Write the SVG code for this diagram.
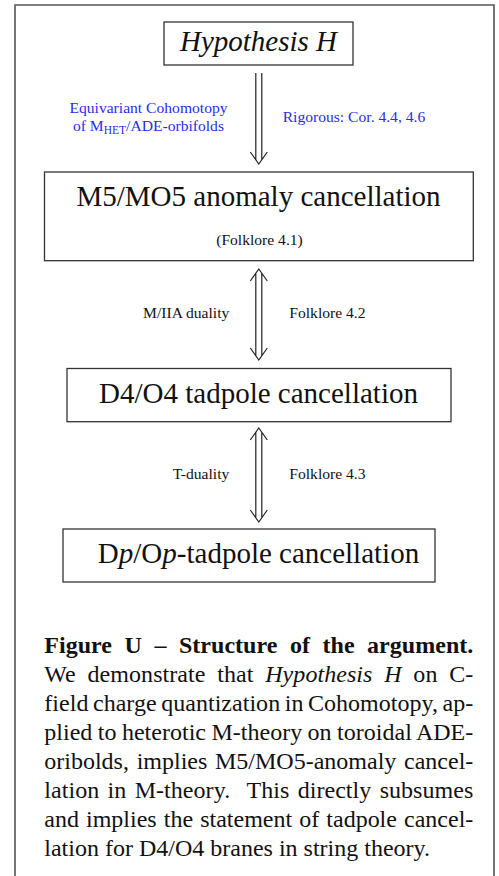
<svg xmlns="http://www.w3.org/2000/svg" width="499" height="876" viewBox="0 0 499 876">
<style>
  text { font-family: "Liberation Serif", "Times New Roman", serif; fill: #111; }
  .box { fill: #fff; stroke: #333; stroke-width: 1.3; }
  .big { font-size: 29px; text-anchor: middle; }
  .lbl { font-size: 15.6px; }
  .blue { fill: #2b2bf0; }
  .cap { font-size: 24px; }
  .ln { fill: none; stroke: #222; stroke-width: 1.2; }
</style>
<rect width="499" height="876" fill="#fff"/>
<path d="M15,880 V5 H494 V880" fill="none" stroke="#555" stroke-width="1.6"/>

<g id="hypothesis">
  <rect class="box" x="164" y="22" width="189" height="43"/>
  <text class="big" x="258.5" y="51" font-style="italic">Hypothesis H</text>
</g>

<g id="m5">
  <rect class="box" x="44.5" y="172" width="428.8" height="88.7"/>
  <text class="big" x="258.5" y="206">M5/MO5 anomaly cancellation</text>
  <text class="lbl" x="259.5" y="245" text-anchor="middle">(Folklore 4.1)</text>
</g>

<g id="d4">
  <rect class="box" x="67" y="368.5" width="384" height="53.2"/>
  <text class="big" x="258.5" y="403">D4/O4 tadpole cancellation</text>
</g>

<g id="dp">
  <rect class="box" x="63" y="529" width="372" height="53"/>
  <text class="big" x="258.5" y="563">D<tspan font-style="italic">p</tspan>/O<tspan font-style="italic">p</tspan>-tadpole cancellation</text>
</g>

<g id="connectors">
  <!-- arrow 1: implies -->
  <path class="ln" d="M255.8,73 V160 M261.8,73 V160 M250.3,152 L258.8,164 L267.3,152"/>
  <!-- arrow 2: equivalence -->
  <path class="ln" d="M255.8,273 V356 M261.8,273 V356 M250.3,281 L258.8,269 L267.3,281 M250.3,348 L258.8,360 L267.3,348"/>
  <!-- arrow 3: equivalence -->
  <path class="ln" d="M255.8,432 V518 M261.8,432 V518 M250.3,440 L258.8,428 L267.3,440 M250.3,510 L258.8,522 L267.3,510"/>
</g>

<g id="labels">
  <text class="lbl blue" x="148.5" y="113.3" text-anchor="middle">Equivariant Cohomotopy</text>
  <text class="lbl blue" x="148.5" y="130.7" text-anchor="middle">of M<tspan font-size="11.5px" dy="3">HET</tspan><tspan dy="-3">/ADE-orbifolds</tspan></text>
  <text class="lbl blue" x="282.7" y="121.7">Rigorous: Cor. 4.4, 4.6</text>
  <text class="lbl" x="229.3" y="318.3" text-anchor="end">M/IIA duality</text>
  <text class="lbl" x="289.3" y="318.3">Folklore 4.2</text>
  <text class="lbl" x="229.3" y="479.3" text-anchor="end">T-duality</text>
  <text class="lbl" x="289.3" y="479.3">Folklore 4.3</text>
</g>

<g id="caption">
  <text class="cap" x="44.3" y="653" font-weight="bold" word-spacing="6.5" textLength="429" lengthAdjust="spacing">Figure U – Structure of the argument.</text>
  <text class="cap" x="44.3" y="682" word-spacing="5.7" textLength="429" lengthAdjust="spacing">We demonstrate that <tspan font-style="italic">Hypothesis H</tspan> on C-</text>
  <text class="cap" x="44.3" y="711" word-spacing="-1.5" textLength="429" lengthAdjust="spacing">field charge quantization in Cohomotopy, ap-</text>
  <text class="cap" x="44.3" y="740" word-spacing="-0.6" textLength="429" lengthAdjust="spacing">plied to heterotic M-theory on toroidal ADE-</text>
  <text class="cap" x="44.3" y="769" word-spacing="1.7" textLength="429" lengthAdjust="spacing">oribolds, implies M5/MO5-anomaly cancel-</text>
  <text class="cap" x="44.3" y="798" word-spacing="2.3" textLength="429" lengthAdjust="spacing" xml:space="preserve">lation in M-theory.  This directly subsumes</text>
  <text class="cap" x="44.3" y="827" word-spacing="1.1" textLength="429" lengthAdjust="spacing">and implies the statement of tadpole cancel-</text>
  <text class="cap" x="44.3" y="856">lation for D4/O4 branes in string theory.</text>
</g>
</svg>
